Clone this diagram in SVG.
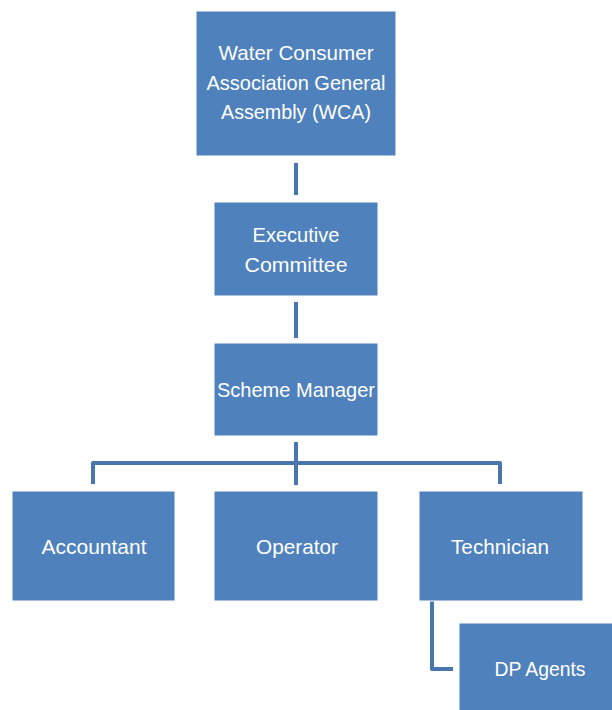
<svg xmlns="http://www.w3.org/2000/svg" width="612" height="710" viewBox="0 0 612 710">
  <style>
    .box { fill: #4F81BD; stroke: #FFFFFF; stroke-width: 1; }
    .label { fill: #FFFFFF; font-family: "Liberation Sans", Arial, sans-serif; font-size: 21px; text-anchor: middle; }
    .link { fill: none; stroke: #4A76AE; stroke-width: 4; stroke-linejoin: round; }
  </style>
  <rect width="612" height="710" fill="#FFFFFF"/>

  <g id="connectors">
    <line class="link" x1="296" y1="163" x2="296" y2="195"/>
    <line class="link" x1="296" y1="302" x2="296" y2="338"/>
    <line class="link" x1="296" y1="442" x2="296" y2="485"/>
    <path class="link" d="M93,484 V463 H500 V484"/>
    <path class="link" d="M432,583 V669 H453"/>
  </g>

  <g id="wca">
    <rect class="box" x="196" y="11" width="200" height="145"/>
    <text class="label" x="296" y="60" textLength="155" lengthAdjust="spacingAndGlyphs">Water Consumer</text>
    <text class="label" x="296" y="90" textLength="179" lengthAdjust="spacingAndGlyphs">Association General</text>
    <text class="label" x="296" y="119" textLength="150" lengthAdjust="spacingAndGlyphs">Assembly (WCA)</text>
  </g>

  <g id="executive-committee">
    <rect class="box" x="214" y="202" width="164" height="94"/>
    <text class="label" x="296" y="242" textLength="87" lengthAdjust="spacingAndGlyphs">Executive</text>
    <text class="label" x="296" y="272" textLength="103" lengthAdjust="spacingAndGlyphs">Committee</text>
  </g>

  <g id="scheme-manager">
    <rect class="box" x="214" y="343" width="164" height="93"/>
    <text class="label" x="296" y="397" textLength="158" lengthAdjust="spacingAndGlyphs">Scheme Manager</text>
  </g>

  <g id="accountant">
    <rect class="box" x="12" y="491" width="163" height="110"/>
    <text class="label" x="94" y="554" textLength="105" lengthAdjust="spacingAndGlyphs">Accountant</text>
  </g>

  <g id="operator">
    <rect class="box" x="214" y="491" width="164" height="110"/>
    <text class="label" x="297" y="554" textLength="82" lengthAdjust="spacingAndGlyphs">Operator</text>
  </g>

  <g id="technician">
    <rect class="box" x="419" y="491" width="164" height="110"/>
    <text class="label" x="500" y="554" textLength="98" lengthAdjust="spacingAndGlyphs">Technician</text>
  </g>

  <g id="dp-agents">
    <rect class="box" x="459" y="623" width="164" height="100"/>
    <text class="label" x="540" y="676" textLength="91" lengthAdjust="spacingAndGlyphs">DP Agents</text>
  </g>
</svg>
